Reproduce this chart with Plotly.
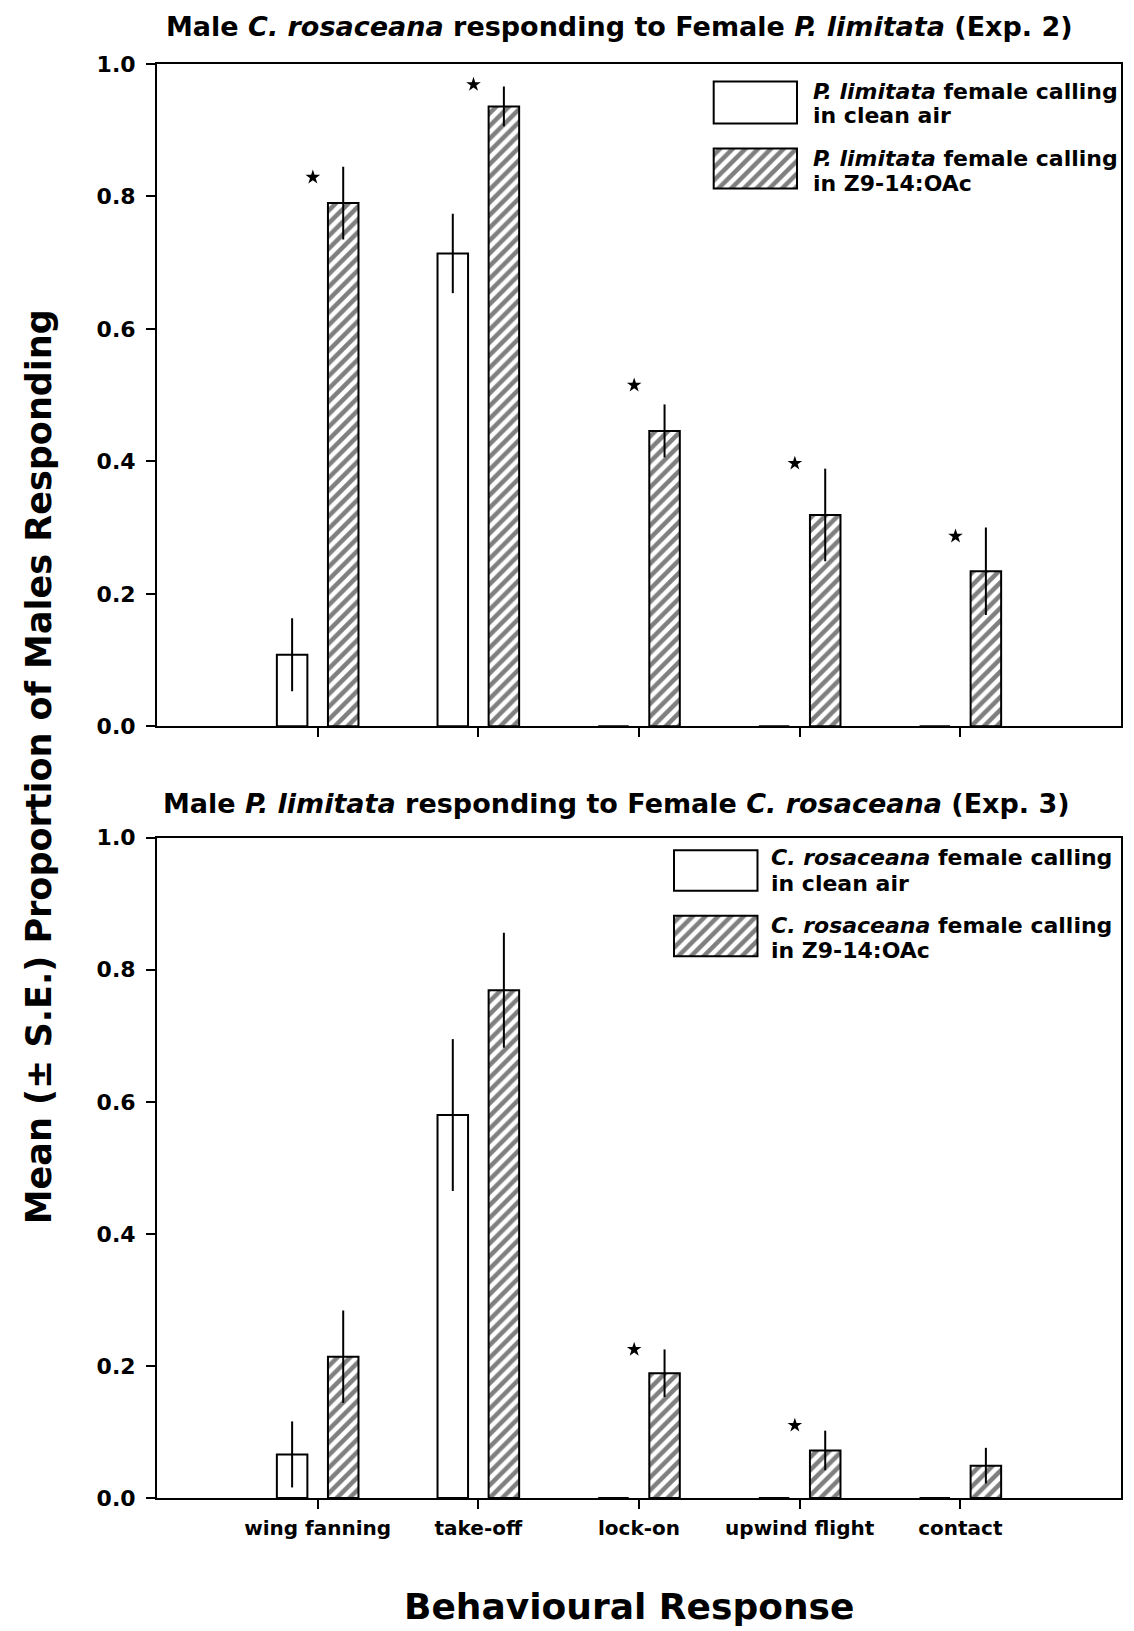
import plotly.graph_objects as go

# ---------------- data ----------------
categories = ["wing fanning", "take-off", "lock-on", "upwind flight", "contact"]
cat_idx = [0, 1, 2, 3, 4]

# Exp. 2 : Male C. rosaceana responding to female P. limitata
exp2_clean = [0.108, 0.714, 0.0, 0.0, 0.0]
exp2_clean_se = [0.055, 0.060, 0.0, 0.0, 0.0]
exp2_z9 = [0.790, 0.936, 0.446, 0.319, 0.234]
exp2_z9_se = [0.055, 0.030, 0.040, 0.070, 0.066]
exp2_sig_cats = [0, 1, 2, 3, 4]
exp2_sig_y = [0.829, 0.969, 0.515, 0.397, 0.287]

# Exp. 3 : Male P. limitata responding to female C. rosaceana
exp3_clean = [0.066, 0.580, 0.0, 0.0, 0.0]
exp3_clean_se = [0.050, 0.115, 0.0, 0.0, 0.0]
exp3_z9 = [0.214, 0.769, 0.189, 0.072, 0.049]
exp3_z9_se = [0.070, 0.087, 0.036, 0.030, 0.027]
exp3_sig_cats = [2, 3]
exp3_sig_y = [0.225, 0.110]

y_ticks = [0.0, 0.2, 0.4, 0.6, 0.8, 1.0]

title_top = "Male <i>C. rosaceana</i> responding to Female <i>P. limitata</i> (Exp. 2)"
title_bot = "Male <i>P. limitata</i> responding to Female <i>C. rosaceana</i> (Exp. 3)"
legend_top = [["<i>P. limitata</i> female calling", "in clean air"],
              ["<i>P. limitata</i> female calling", "in Z9-14:OAc"]]
legend_bot = [["<i>C. rosaceana</i> female calling", "in clean air"],
              ["<i>C. rosaceana</i> female calling", "in Z9-14:OAc"]]
y_title = "Mean (± S.E.) Proportion of Males Responding"
x_title = "Behavioural Response"

# ---------------- layout geometry ----------------
# all positions below are given in page pixels; the page body has an 8px margin
W, H = 1134, 1631
OFF = 8
PLOT_L, PLOT_R, PLOT_T, PLOT_B = 157.0, 1121.0, 63.5, 1498.0   # page px
ML = PLOT_L - OFF
MR = W - (PLOT_R - OFF)
MT = PLOT_T - OFF
MB = H - (PLOT_B - OFF)
PW = PLOT_R - PLOT_L
PH = PLOT_B - PLOT_T


def px_x(x):
    return (x - PLOT_L) / PW


def px_y(y):
    return (PLOT_B - y) / PH


FONT = "DejaVu Sans, Verdana, sans-serif"
BAR_W = 0.19
OFF_CLEAN = -0.254
OFF_Z9 = 0.064
HATCH = dict(shape="/", size=9, solidity=0.5, fgcolor="black", bgcolor="white")

fig = go.Figure()


def add_panel(xa, ya, clean, clean_se, z9, z9_se, sig_c, sig_y):
    fig.add_trace(go.Bar(
        x=cat_idx, y=clean, width=BAR_W, offset=OFF_CLEAN,
        marker=dict(color="white", line=dict(color="black", width=2)),
        error_y=dict(type="data", array=clean_se, color="black", thickness=2, width=0),
        xaxis=xa, yaxis=ya, showlegend=False))
    fig.add_trace(go.Bar(
        x=cat_idx, y=z9, width=BAR_W, offset=OFF_Z9,
        marker=dict(color="white", pattern=HATCH, line=dict(color="black", width=2)),
        error_y=dict(type="data", array=z9_se, color="black", thickness=2, width=0),
        xaxis=xa, yaxis=ya, showlegend=False))
    fig.add_trace(go.Scatter(
        x=[c - 0.03 for c in sig_c], y=sig_y, mode="markers",
        marker=dict(symbol="star", size=11, color="black"),
        xaxis=xa, yaxis=ya, showlegend=False, cliponaxis=False))


add_panel("x", "y", exp2_clean, exp2_clean_se, exp2_z9, exp2_z9_se, exp2_sig_cats, exp2_sig_y)
add_panel("x2", "y2", exp3_clean, exp3_clean_se, exp3_z9, exp3_z9_se, exp3_sig_cats, exp3_sig_y)

# ---------------- legend keys (swatches in tiny axes) ----------------
swatches = [
    # (x0, x1, y0, y1) in page pixels, hatched?
    (713.7, 797.0, 81.0, 123.0, False),
    (713.7, 797.0, 148.0, 188.0, True),
    (674.0, 757.5, 850.0, 890.6, False),
    (674.0, 757.5, 915.5, 956.0, True),
]
axis_layout = {}
for i, (x0, x1, y0, y1, hatched) in enumerate(swatches):
    n = i + 3
    marker = dict(color="white", line=dict(color="black", width=2))
    if hatched:
        marker["pattern"] = HATCH
    fig.add_trace(go.Bar(x=[0], y=[1], width=1, marker=marker,
                         xaxis=f"x{n}", yaxis=f"y{n}", showlegend=False,
                         hoverinfo="skip"))
    pad_x = (x1 - x0) * 0.05
    pad_y = (y1 - y0) * 0.05
    axis_layout[f"xaxis{n}"] = dict(domain=[px_x(x0 - pad_x), px_x(x1 + pad_x)],
                                    range=[-0.55, 0.55], visible=False,
                                    anchor=f"y{n}", fixedrange=True)
    axis_layout[f"yaxis{n}"] = dict(domain=[px_y(y1 + pad_y), px_y(y0 - pad_y)],
                                    range=[-0.05, 1.05], visible=False,
                                    anchor=f"x{n}", fixedrange=True)

# ---------------- axes ----------------
common_x = dict(range=[-1, 5], tickvals=cat_idx, ticks="outside", ticklen=9,
                tickwidth=2, tickcolor="black", showline=True, linewidth=2,
                linecolor="black", mirror=True, showgrid=False, zeroline=False)
common_y = dict(range=[0, 1], tickvals=y_ticks, tickformat=".1f", ticks="outside",
                ticklen=9, tickwidth=2, tickcolor="black", showline=True, linewidth=2,
                linecolor="black", mirror=True, showgrid=False, zeroline=False,
                tickfont=dict(family=FONT, size=22, color="black", weight="bold"),
                ticklabelstandoff=6)

top_domain = [px_y(726.0), px_y(63.5)]
bot_domain = [px_y(1498.0), px_y(837.5)]

fig.update_layout(
    width=W, height=H,
    margin=dict(l=ML, r=MR, t=MT, b=MB),
    paper_bgcolor="white", plot_bgcolor="white",
    barmode="overlay",
    xaxis=dict(**common_x, anchor="y", showticklabels=False),
    yaxis=dict(**common_y, anchor="x", domain=top_domain),
    xaxis2=dict(**common_x, anchor="y2", ticktext=categories,
                tickfont=dict(family=FONT, size=20, color="black", weight="bold"),
                ticklabelstandoff=2),
    yaxis2=dict(**common_y, anchor="x2", domain=bot_domain),
    **axis_layout,
)

ann = []


def text(x, y, s, size, xanchor="center", angle=0):
    ann.append(dict(x=px_x(x), y=px_y(y), xref="paper", yref="paper", text=s,
                    showarrow=False, xanchor=xanchor, yanchor="middle",
                    textangle=angle,
                    font=dict(family=FONT, size=size, color="black", weight="bold")))


text(619.6, 26, title_top, 27)
text(616.4, 803, title_bot, 27)
text(39, 767, y_title, 35, angle=-90)
text(629, 1607, x_title, 36)

# legend text lines
for (l1, l2), (ya, yb) in zip(legend_top, [(91.5, 115.5), (158.0, 183.0)]):
    text(811, ya, l1, 22, xanchor="left")
    text(811, yb, l2, 22, xanchor="left")
for (l1, l2), (ya, yb) in zip(legend_bot, [(857.0, 883.0), (925.0, 950.0)]):
    text(769, ya, l1, 22, xanchor="left")
    text(769, yb, l2, 22, xanchor="left")

fig.update_layout(annotations=ann)

fig.write_html("out.html")
